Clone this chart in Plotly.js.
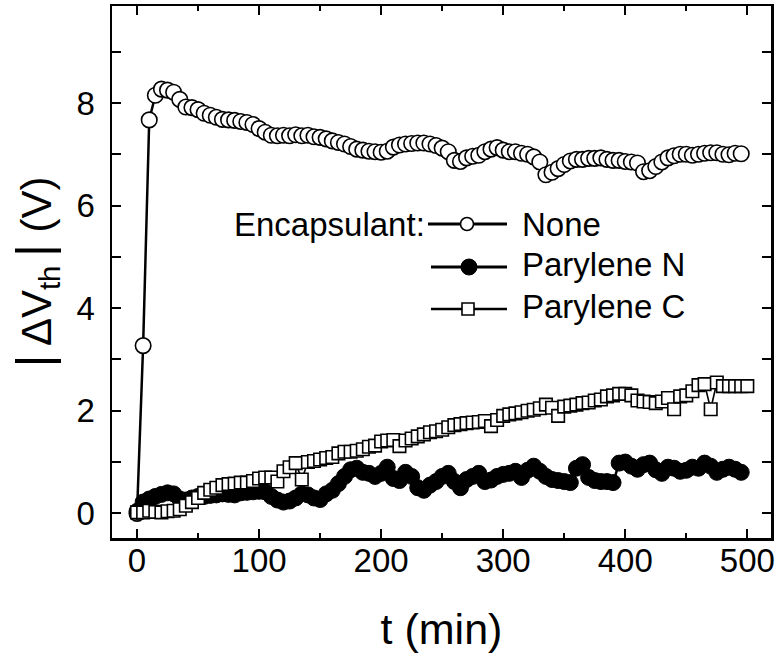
<!DOCTYPE html>
<html><head><meta charset="utf-8">
<script src="https://cdn.plot.ly/plotly-3.0.1.min.js"></script>
<style>html,body{margin:0;padding:0;background:#fff}#chart{width:780px;height:658px}</style>
</head><body><div id="chart"></div>
<script>
// time (min)
const tNone = [0,5,10,15,20,25,30,35,40,45,50,55,60,65,70,75,80,85,90,95,
  100,105,110,115,120,125,130,135,140,145,150,155,160,165,170,175,180,185,190,195,
  200,205,210,215,220,225,230,235,240,245,250,255,260,265,270,275,280,285,290,295,
  300,305,310,315,320,325,330,335,340,345,350,355,360,365,370,375,380,385,390,395,
  400,405,410,415,420,425,430,435,440,445,450,455,460,465,470,475,480,485,490,495];
const vNone = [0,3.27,7.67,8.15,8.27,8.25,8.21,8.07,7.92,7.91,
  7.87,7.8,7.76,7.72,7.68,7.67,7.66,7.64,7.62,7.58,
  7.5,7.43,7.37,7.36,7.37,7.36,7.38,7.36,7.37,7.34,
  7.33,7.3,7.26,7.23,7.2,7.15,7.1,7.08,7.06,7.05,
  7.04,7.06,7.14,7.18,7.2,7.21,7.22,7.22,7.2,7.17,
  7.12,7.05,6.88,6.86,6.93,6.96,6.98,7.05,7.1,7.13,
  7.08,7.05,7.05,7.02,7.0,6.95,6.85,6.6,6.65,6.72,
  6.8,6.87,6.9,6.9,6.92,6.92,6.93,6.9,6.88,6.88,
  6.86,6.85,6.83,6.66,6.68,6.76,6.85,6.93,6.97,7.0,
  7.0,6.98,7.0,7.02,7.03,7.03,7.0,6.99,7.02,7.01];
const tParN = [0,5,10,15,20,25,30,35,40,45,50,55,60,65,70,75,80,85,90,95,
  100,105,110,115,120,125,130,135,140,145,150,155,160,165,170,175,180,185,190,195,
  200,205,210,215,220,225,230,235,240,245,250,255,260,265,270,275,280,285,290,295,
  300,305,310,315,320,325,330,335,340,345,350,355,360,365,370,375,380,385,390,395,
  400,405,410,415,420,425,430,435,440,445,450,455,460,465,470,475,480,485,490,495];
const vParN = [0.04,0.22,0.28,0.33,0.37,0.4,0.38,0.28,0.26,0.3,
  0.33,0.33,0.35,0.36,0.38,0.37,0.36,0.4,0.41,0.42,
  0.43,0.42,0.33,0.26,0.22,0.24,0.3,0.38,0.36,0.3,
  0.27,0.38,0.45,0.58,0.72,0.85,0.88,0.8,0.78,0.72,
  0.78,0.9,0.68,0.64,0.8,0.72,0.5,0.45,0.55,0.62,
  0.72,0.78,0.62,0.5,0.66,0.72,0.78,0.62,0.65,0.72,
  0.76,0.78,0.82,0.7,0.84,0.92,0.82,0.72,0.66,0.64,
  0.62,0.6,0.88,0.95,0.7,0.64,0.62,0.62,0.6,0.98,
  1.0,0.92,0.86,0.95,0.98,0.85,0.78,0.9,0.88,0.82,
  0.84,0.9,0.88,0.98,0.92,0.8,0.86,0.9,0.86,0.8];
const tParC = [0,5,10,15,20,25,30,35,40,45,50,55,60,65,70,75,80,85,90,95,
  100,105,110,115,120,125,130,135,140,145,150,155,160,165,170,175,180,185,190,195,
  200,205,210,215,220,225,230,235,240,245,250,255,260,265,270,275,280,285,290,295,
  300,305,310,315,320,325,330,335,340,345,350,355,360,365,370,375,380,385,390,395,
  400,405,410,415,420,425,430,435,440,445,450,455,460,465,470,475,480,485,490,495,500];
const vParC = [0.02,0.02,0.05,0.03,0.02,0.04,0.05,0.08,0.15,0.22,
  0.3,0.4,0.46,0.5,0.55,0.57,0.58,0.6,0.6,0.63,
  0.68,0.7,0.7,0.62,0.82,0.9,0.98,0.66,1.0,1.02,
  1.05,1.08,1.1,1.17,1.2,1.2,1.22,1.25,1.3,1.32,
  1.4,1.42,1.43,1.31,1.42,1.46,1.5,1.54,1.58,1.6,
  1.63,1.68,1.72,1.74,1.76,1.77,1.78,1.8,1.7,1.82,
  1.9,1.93,1.95,1.97,2.0,2.02,2.05,2.12,2.06,1.9,
  2.08,2.1,2.12,2.15,2.16,2.2,2.22,2.28,2.3,2.33,
  2.33,2.3,2.2,2.18,2.17,2.15,2.18,2.25,2.03,2.28,
  2.3,2.38,2.5,2.52,2.03,2.55,2.48,2.48,2.48,2.48,2.48];
const seriesNames = ['None','Parylene N','Parylene C'];
const legendTitle = 'Encapsulant:';

const FONT = 'Arial, "Liberation Sans", Helvetica, sans-serif';

const traces = [
  {x: tNone, y: vNone, name: seriesNames[0], type: 'scatter', mode: 'lines+markers',
   line: {color: '#000', width: 2.5},
   marker: {symbol: 'circle', size: 15.5, color: '#fff', line: {color: '#000', width: 1.6}}},
  {x: tParN, y: vParN, name: seriesNames[1], type: 'scatter', mode: 'lines+markers',
   line: {color: '#000', width: 2.5},
   marker: {symbol: 'circle', size: 16, color: '#000', line: {color: '#000', width: 1}}},
  {x: tParC, y: vParC, name: seriesNames[2], type: 'scatter', mode: 'lines+markers',
   line: {color: '#000', width: 1.6},
   marker: {symbol: 'square', size: 12.5, color: '#fff', line: {color: '#000', width: 1.6}}}
];

// legend drawn as shapes/annotations in paper coordinates
const L = 112, W = 659, B = 538, H = 532;
const px = v => (v - L) / W;
const py = v => (B - v) / H;
const rows = [224, 267, 309];
const shapes = [];
const annotations = [];
const lineX0 = [428, 431, 431], lineX1 = 507, markX = [467, 469, 468];
rows.forEach((r, i) => {
  shapes.push({type: 'line', xref: 'paper', yref: 'paper', x0: px(lineX0[i]), x1: px(lineX1), y0: py(r), y1: py(r),
    line: {color: '#000', width: i === 2 ? 2.4 : 2.8}});
});
shapes.push({type: 'circle', xref: 'paper', yref: 'paper', xsizemode: 'pixel', ysizemode: 'pixel',
  xanchor: px(markX[0]), yanchor: py(rows[0]), x0: -6.5, x1: 6.5, y0: -6.5, y1: 6.5,
  fillcolor: '#fff', line: {color: '#000', width: 1.6}});
shapes.push({type: 'circle', xref: 'paper', yref: 'paper', xsizemode: 'pixel', ysizemode: 'pixel',
  xanchor: px(markX[1]), yanchor: py(rows[1]), x0: -8, x1: 8, y0: -8, y1: 8,
  fillcolor: '#000', line: {color: '#000', width: 1}});
shapes.push({type: 'rect', xref: 'paper', yref: 'paper', xsizemode: 'pixel', ysizemode: 'pixel',
  xanchor: px(markX[2]), yanchor: py(rows[2]), x0: -6, x1: 6, y0: -6, y1: 6,
  fillcolor: '#fff', line: {color: '#000', width: 1.6}});
annotations.push({xref: 'paper', yref: 'paper', x: px(427), y: py(225), xanchor: 'right', yanchor: 'middle',
  text: legendTitle, showarrow: false, font: {family: FONT, size: 33, color: '#000'}});
const textRows = [225, 264, 306];
seriesNames.forEach((n, i) => {
  annotations.push({xref: 'paper', yref: 'paper', x: px(520), y: py(textRows[i]), xanchor: 'left', yanchor: 'middle',
    text: n, showarrow: false, font: {family: FONT, size: 33, color: '#000'}});
});

const axisCommon = {
  showline: true, linecolor: '#000', linewidth: 2.5, mirror: 'ticks',
  ticks: 'inside', tickcolor: '#000', tickwidth: 2, showgrid: false, zeroline: false,
  tickfont: {family: FONT, size: 33, color: '#000'}
};

const layout = {
  width: 780, height: 658,
  margin: {l: 112, r: 9, t: 6, b: 120},
  paper_bgcolor: '#fff', plot_bgcolor: '#fff',
  showlegend: false,
  font: {family: FONT, color: '#000'},
  xaxis: Object.assign({}, axisCommon, {
    range: [-20.5, 519.4], tick0: 0, dtick: 100, ticklen: 9, ticklabelstandoff: -8,
    minor: {dtick: 50, ticks: 'inside', ticklen: 5, tickwidth: 2, tickcolor: '#000', showgrid: false},
    title: {text: 't (min)', font: {family: FONT, size: 43, color: '#000'}, standoff: 36}
  }),
  yaxis: Object.assign({}, axisCommon, {
    range: [-0.48, 9.89], tick0: 0, dtick: 2, ticklen: 9, ticklabelstandoff: 8,
    minor: {dtick: 1, ticks: 'inside', ticklen: 9, tickwidth: 2, tickcolor: '#000', showgrid: false},
    title: {text: '<span style="font-size:50px">|</span>\u2009ΔV<sub>th</sub>\u2009<span style="font-size:50px">|</span> (V)',
      font: {family: FONT, size: 42, color: '#000'}, standoff: 12}
  }),
  shapes: shapes,
  annotations: annotations
};

Plotly.newPlot('chart', traces, layout, {displayModeBar: false, staticPlot: true});
</script>
</body></html>
